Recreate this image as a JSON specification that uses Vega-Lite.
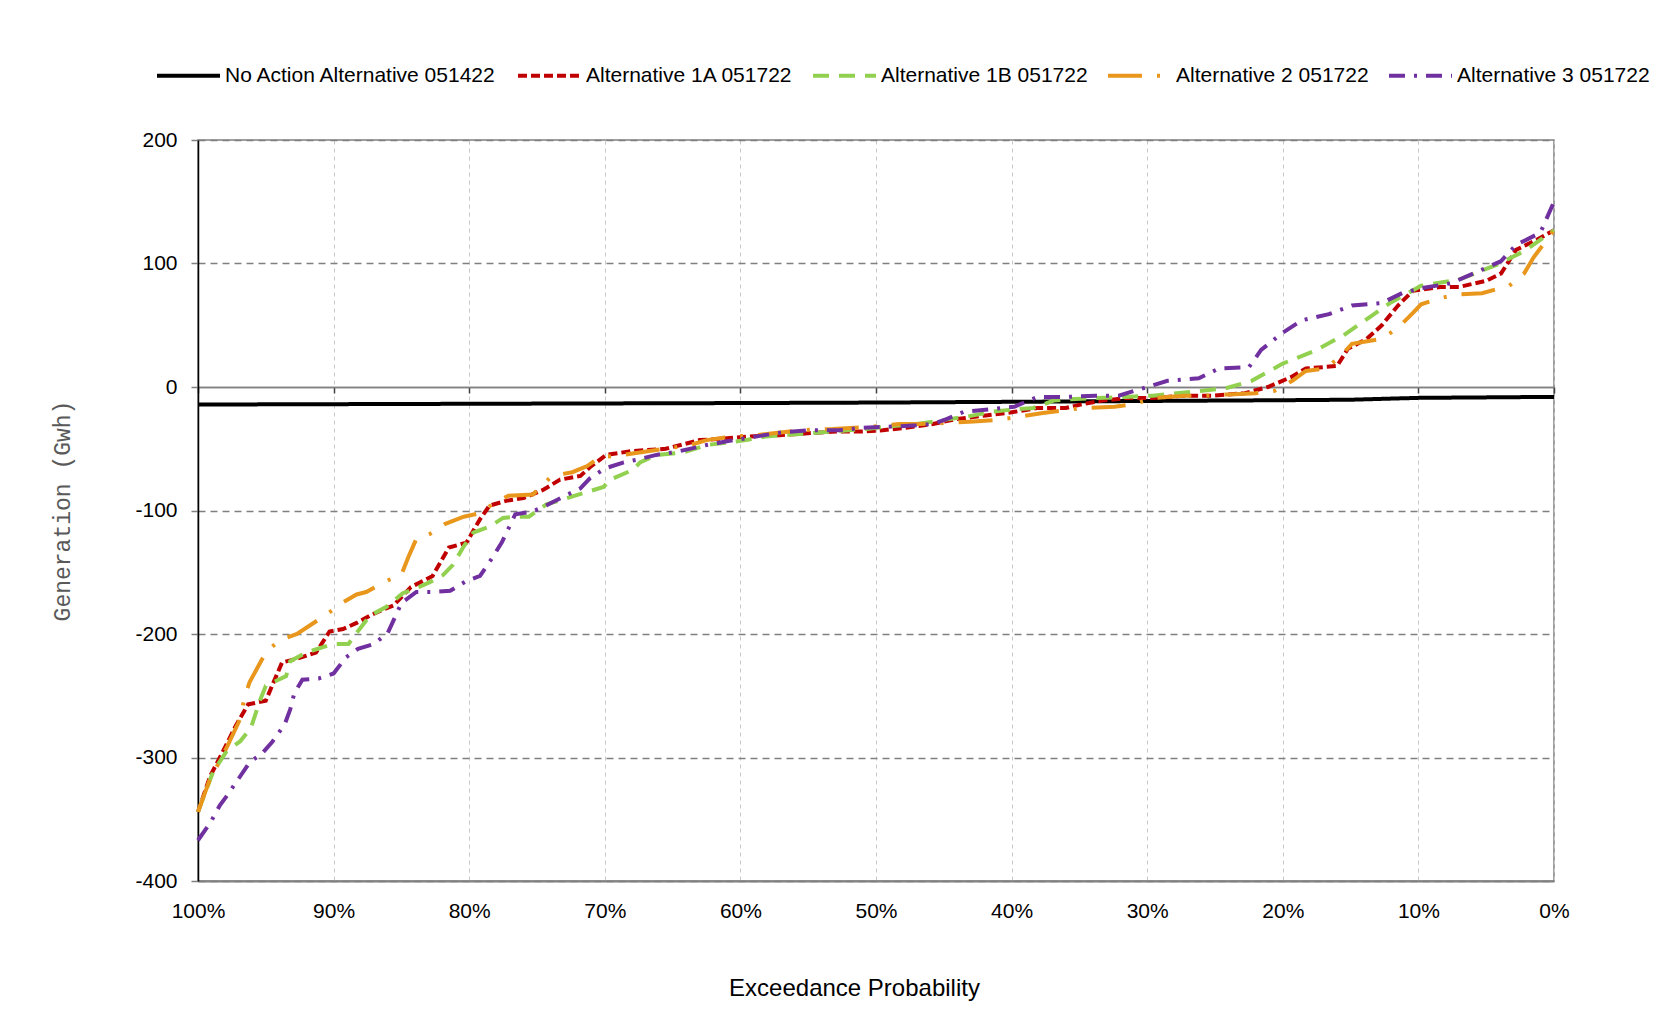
{
  "$schema": "https://vega.github.io/schema/vega-lite/v6.json",
  "width": 1356,
  "height": 741,
  "autosize": {"type": "none"},
  "padding": {"left": 198, "top": 140, "right": 109, "bottom": 151},
  "background": "white",
  "config": {
    "view": {"stroke": "#808080", "strokeWidth": 1.5},
    "font": "Liberation Sans",
    "legend": {
      "orient": "none", "legendX": -43, "legendY": -98, "direction": "horizontal",
      "symbolType": "stroke", "symbolSize": 3969, "symbolStrokeWidth": 4,
      "labelFont": "Liberation Sans", "labelFontSize": 21, "labelColor": "black",
      "labelOffset": 3, "columnPadding": 12, "labelLimit": 400
    }
  },
  "data": {"values": [
    {"s":"No Action Alternative 051422","p":100,"v":-14.2},
    {"s":"No Action Alternative 051422","p":90,"v":-13.9},
    {"s":"No Action Alternative 051422","p":80,"v":-13.6},
    {"s":"No Action Alternative 051422","p":70,"v":-13.3},
    {"s":"No Action Alternative 051422","p":60,"v":-13},
    {"s":"No Action Alternative 051422","p":50,"v":-12.6},
    {"s":"No Action Alternative 051422","p":40,"v":-12},
    {"s":"No Action Alternative 051422","p":30,"v":-11.3},
    {"s":"No Action Alternative 051422","p":20,"v":-10.7},
    {"s":"No Action Alternative 051422","p":15,"v":-10.3},
    {"s":"No Action Alternative 051422","p":10,"v":-8.8},
    {"s":"No Action Alternative 051422","p":0,"v":-8},

    {"s":"Alternative 1A 051722","p":100,"v":-344},
    {"s":"Alternative 1A 051722","p":99.1,"v":-315},
    {"s":"Alternative 1A 051722","p":98.2,"v":-296},
    {"s":"Alternative 1A 051722","p":97.2,"v":-274},
    {"s":"Alternative 1A 051722","p":96.3,"v":-257},
    {"s":"Alternative 1A 051722","p":95,"v":-254},
    {"s":"Alternative 1A 051722","p":94.5,"v":-241},
    {"s":"Alternative 1A 051722","p":93.8,"v":-223},
    {"s":"Alternative 1A 051722","p":92.7,"v":-220},
    {"s":"Alternative 1A 051722","p":91.3,"v":-215},
    {"s":"Alternative 1A 051722","p":90.3,"v":-198},
    {"s":"Alternative 1A 051722","p":89.3,"v":-196},
    {"s":"Alternative 1A 051722","p":88.3,"v":-191},
    {"s":"Alternative 1A 051722","p":87.3,"v":-185},
    {"s":"Alternative 1A 051722","p":86.3,"v":-180},
    {"s":"Alternative 1A 051722","p":85.6,"v":-177},
    {"s":"Alternative 1A 051722","p":84.3,"v":-162},
    {"s":"Alternative 1A 051722","p":83.4,"v":-157},
    {"s":"Alternative 1A 051722","p":82.7,"v":-153},
    {"s":"Alternative 1A 051722","p":81.5,"v":-130},
    {"s":"Alternative 1A 051722","p":80.2,"v":-126},
    {"s":"Alternative 1A 051722","p":79.2,"v":-107},
    {"s":"Alternative 1A 051722","p":78.5,"v":-96},
    {"s":"Alternative 1A 051722","p":77.2,"v":-92},
    {"s":"Alternative 1A 051722","p":76,"v":-90},
    {"s":"Alternative 1A 051722","p":74.5,"v":-83},
    {"s":"Alternative 1A 051722","p":73.3,"v":-75},
    {"s":"Alternative 1A 051722","p":71.8,"v":-72},
    {"s":"Alternative 1A 051722","p":71.1,"v":-65},
    {"s":"Alternative 1A 051722","p":69.9,"v":-55},
    {"s":"Alternative 1A 051722","p":68.1,"v":-52},
    {"s":"Alternative 1A 051722","p":65.5,"v":-50},
    {"s":"Alternative 1A 051722","p":63,"v":-43},
    {"s":"Alternative 1A 051722","p":61.5,"v":-42},
    {"s":"Alternative 1A 051722","p":59.3,"v":-40},
    {"s":"Alternative 1A 051722","p":57.1,"v":-39},
    {"s":"Alternative 1A 051722","p":54.4,"v":-37},
    {"s":"Alternative 1A 051722","p":52.7,"v":-36},
    {"s":"Alternative 1A 051722","p":51,"v":-36},
    {"s":"Alternative 1A 051722","p":49.5,"v":-35},
    {"s":"Alternative 1A 051722","p":47.8,"v":-33},
    {"s":"Alternative 1A 051722","p":45.8,"v":-30},
    {"s":"Alternative 1A 051722","p":44.1,"v":-26},
    {"s":"Alternative 1A 051722","p":41.9,"v":-23},
    {"s":"Alternative 1A 051722","p":40,"v":-20.5},
    {"s":"Alternative 1A 051722","p":38.1,"v":-17},
    {"s":"Alternative 1A 051722","p":36,"v":-17},
    {"s":"Alternative 1A 051722","p":34.8,"v":-14},
    {"s":"Alternative 1A 051722","p":33.3,"v":-11},
    {"s":"Alternative 1A 051722","p":31.6,"v":-9},
    {"s":"Alternative 1A 051722","p":29.6,"v":-9},
    {"s":"Alternative 1A 051722","p":27.3,"v":-7},
    {"s":"Alternative 1A 051722","p":25.1,"v":-7},
    {"s":"Alternative 1A 051722","p":22.8,"v":-5},
    {"s":"Alternative 1A 051722","p":21.1,"v":0},
    {"s":"Alternative 1A 051722","p":19.4,"v":8},
    {"s":"Alternative 1A 051722","p":18.3,"v":15},
    {"s":"Alternative 1A 051722","p":16,"v":17},
    {"s":"Alternative 1A 051722","p":15.2,"v":31},
    {"s":"Alternative 1A 051722","p":13.8,"v":39},
    {"s":"Alternative 1A 051722","p":12.7,"v":50},
    {"s":"Alternative 1A 051722","p":11.5,"v":66},
    {"s":"Alternative 1A 051722","p":10.4,"v":78},
    {"s":"Alternative 1A 051722","p":8.4,"v":81},
    {"s":"Alternative 1A 051722","p":7,"v":81},
    {"s":"Alternative 1A 051722","p":5,"v":86},
    {"s":"Alternative 1A 051722","p":3.9,"v":92},
    {"s":"Alternative 1A 051722","p":2.8,"v":111},
    {"s":"Alternative 1A 051722","p":1.3,"v":119},
    {"s":"Alternative 1A 051722","p":0,"v":127},

    {"s":"Alternative 1B 051722","p":100,"v":-344},
    {"s":"Alternative 1B 051722","p":98.9,"v":-312},
    {"s":"Alternative 1B 051722","p":97.9,"v":-295},
    {"s":"Alternative 1B 051722","p":96.9,"v":-287},
    {"s":"Alternative 1B 051722","p":96.1,"v":-276},
    {"s":"Alternative 1B 051722","p":95.4,"v":-253},
    {"s":"Alternative 1B 051722","p":95,"v":-242},
    {"s":"Alternative 1B 051722","p":93.5,"v":-234},
    {"s":"Alternative 1B 051722","p":93.2,"v":-222},
    {"s":"Alternative 1B 051722","p":92,"v":-215},
    {"s":"Alternative 1B 051722","p":90.9,"v":-211},
    {"s":"Alternative 1B 051722","p":90,"v":-208},
    {"s":"Alternative 1B 051722","p":88.9,"v":-208},
    {"s":"Alternative 1B 051722","p":88.3,"v":-199},
    {"s":"Alternative 1B 051722","p":87.3,"v":-185},
    {"s":"Alternative 1B 051722","p":86.1,"v":-178},
    {"s":"Alternative 1B 051722","p":84.9,"v":-167},
    {"s":"Alternative 1B 051722","p":83.9,"v":-163},
    {"s":"Alternative 1B 051722","p":82.9,"v":-158},
    {"s":"Alternative 1B 051722","p":81.9,"v":-152},
    {"s":"Alternative 1B 051722","p":81.2,"v":-144},
    {"s":"Alternative 1B 051722","p":80.4,"v":-129},
    {"s":"Alternative 1B 051722","p":79.7,"v":-118},
    {"s":"Alternative 1B 051722","p":78.5,"v":-113},
    {"s":"Alternative 1B 051722","p":77.5,"v":-106},
    {"s":"Alternative 1B 051722","p":76.6,"v":-105},
    {"s":"Alternative 1B 051722","p":75.6,"v":-105},
    {"s":"Alternative 1B 051722","p":74.3,"v":-95},
    {"s":"Alternative 1B 051722","p":72.8,"v":-90},
    {"s":"Alternative 1B 051722","p":71.3,"v":-85},
    {"s":"Alternative 1B 051722","p":70.1,"v":-81},
    {"s":"Alternative 1B 051722","p":69.6,"v":-75},
    {"s":"Alternative 1B 051722","p":67.9,"v":-67},
    {"s":"Alternative 1B 051722","p":67.4,"v":-61},
    {"s":"Alternative 1B 051722","p":66.2,"v":-55},
    {"s":"Alternative 1B 051722","p":64.2,"v":-53},
    {"s":"Alternative 1B 051722","p":62.5,"v":-47},
    {"s":"Alternative 1B 051722","p":61,"v":-45},
    {"s":"Alternative 1B 051722","p":59.6,"v":-43},
    {"s":"Alternative 1B 051722","p":58.1,"v":-40},
    {"s":"Alternative 1B 051722","p":55.6,"v":-38},
    {"s":"Alternative 1B 051722","p":53.2,"v":-36},
    {"s":"Alternative 1B 051722","p":50.7,"v":-34},
    {"s":"Alternative 1B 051722","p":49.2,"v":-32},
    {"s":"Alternative 1B 051722","p":47,"v":-30},
    {"s":"Alternative 1B 051722","p":45.8,"v":-28},
    {"s":"Alternative 1B 051722","p":44.6,"v":-26},
    {"s":"Alternative 1B 051722","p":43.3,"v":-24},
    {"s":"Alternative 1B 051722","p":41.4,"v":-20},
    {"s":"Alternative 1B 051722","p":39.7,"v":-18},
    {"s":"Alternative 1B 051722","p":38.4,"v":-17},
    {"s":"Alternative 1B 051722","p":36.9,"v":-11},
    {"s":"Alternative 1B 051722","p":35.9,"v":-10},
    {"s":"Alternative 1B 051722","p":33.8,"v":-9},
    {"s":"Alternative 1B 051722","p":31.6,"v":-8},
    {"s":"Alternative 1B 051722","p":29.6,"v":-7},
    {"s":"Alternative 1B 051722","p":26.8,"v":-4},
    {"s":"Alternative 1B 051722","p":24.2,"v":-1},
    {"s":"Alternative 1B 051722","p":22.3,"v":5},
    {"s":"Alternative 1B 051722","p":20,"v":19},
    {"s":"Alternative 1B 051722","p":17.7,"v":29},
    {"s":"Alternative 1B 051722","p":15.5,"v":42},
    {"s":"Alternative 1B 051722","p":13.8,"v":55},
    {"s":"Alternative 1B 051722","p":12.1,"v":68},
    {"s":"Alternative 1B 051722","p":9.8,"v":82},
    {"s":"Alternative 1B 051722","p":7,"v":87},
    {"s":"Alternative 1B 051722","p":4.2,"v":99},
    {"s":"Alternative 1B 051722","p":2.2,"v":110},
    {"s":"Alternative 1B 051722","p":0,"v":127},

    {"s":"Alternative 2 051722","p":100,"v":-344},
    {"s":"Alternative 2 051722","p":99.1,"v":-317},
    {"s":"Alternative 2 051722","p":98.5,"v":-305},
    {"s":"Alternative 2 051722","p":97.8,"v":-290},
    {"s":"Alternative 2 051722","p":96.9,"v":-269},
    {"s":"Alternative 2 051722","p":96.6,"v":-253},
    {"s":"Alternative 2 051722","p":96.2,"v":-239},
    {"s":"Alternative 2 051722","p":95,"v":-215},
    {"s":"Alternative 2 051722","p":94,"v":-205},
    {"s":"Alternative 2 051722","p":92.7,"v":-200},
    {"s":"Alternative 2 051722","p":90.5,"v":-184},
    {"s":"Alternative 2 051722","p":89.4,"v":-175},
    {"s":"Alternative 2 051722","p":88.3,"v":-168},
    {"s":"Alternative 2 051722","p":87.6,"v":-166},
    {"s":"Alternative 2 051722","p":86.1,"v":-157},
    {"s":"Alternative 2 051722","p":85,"v":-152},
    {"s":"Alternative 2 051722","p":84.5,"v":-138},
    {"s":"Alternative 2 051722","p":83.9,"v":-123},
    {"s":"Alternative 2 051722","p":82.9,"v":-119},
    {"s":"Alternative 2 051722","p":81.8,"v":-111},
    {"s":"Alternative 2 051722","p":80.4,"v":-105},
    {"s":"Alternative 2 051722","p":79.1,"v":-102},
    {"s":"Alternative 2 051722","p":78.2,"v":-94},
    {"s":"Alternative 2 051722","p":77.1,"v":-88},
    {"s":"Alternative 2 051722","p":75.3,"v":-87},
    {"s":"Alternative 2 051722","p":73.9,"v":-72},
    {"s":"Alternative 2 051722","p":72.4,"v":-69},
    {"s":"Alternative 2 051722","p":71.3,"v":-64},
    {"s":"Alternative 2 051722","p":70.4,"v":-57},
    {"s":"Alternative 2 051722","p":69,"v":-55.5},
    {"s":"Alternative 2 051722","p":66.2,"v":-51},
    {"s":"Alternative 2 051722","p":63.7,"v":-47},
    {"s":"Alternative 2 051722","p":62.5,"v":-43},
    {"s":"Alternative 2 051722","p":60.5,"v":-40},
    {"s":"Alternative 2 051722","p":58.8,"v":-39},
    {"s":"Alternative 2 051722","p":55.6,"v":-35},
    {"s":"Alternative 2 051722","p":53.2,"v":-34},
    {"s":"Alternative 2 051722","p":50.2,"v":-32},
    {"s":"Alternative 2 051722","p":48.3,"v":-30},
    {"s":"Alternative 2 051722","p":46.8,"v":-30},
    {"s":"Alternative 2 051722","p":44.6,"v":-29},
    {"s":"Alternative 2 051722","p":42.8,"v":-28},
    {"s":"Alternative 2 051722","p":41.4,"v":-27},
    {"s":"Alternative 2 051722","p":40,"v":-25},
    {"s":"Alternative 2 051722","p":37.7,"v":-21},
    {"s":"Alternative 2 051722","p":36.2,"v":-19},
    {"s":"Alternative 2 051722","p":34.8,"v":-17},
    {"s":"Alternative 2 051722","p":32.4,"v":-16},
    {"s":"Alternative 2 051722","p":31,"v":-14},
    {"s":"Alternative 2 051722","p":29.6,"v":-9},
    {"s":"Alternative 2 051722","p":27.3,"v":-7},
    {"s":"Alternative 2 051722","p":25.8,"v":-7},
    {"s":"Alternative 2 051722","p":24,"v":-6},
    {"s":"Alternative 2 051722","p":22,"v":-5},
    {"s":"Alternative 2 051722","p":20.6,"v":-3},
    {"s":"Alternative 2 051722","p":19.3,"v":5},
    {"s":"Alternative 2 051722","p":18.3,"v":13},
    {"s":"Alternative 2 051722","p":16.9,"v":15},
    {"s":"Alternative 2 051722","p":15.9,"v":23},
    {"s":"Alternative 2 051722","p":14.9,"v":35},
    {"s":"Alternative 2 051722","p":12.7,"v":39},
    {"s":"Alternative 2 051722","p":11.5,"v":48},
    {"s":"Alternative 2 051722","p":10.4,"v":60},
    {"s":"Alternative 2 051722","p":9.8,"v":67},
    {"s":"Alternative 2 051722","p":8.4,"v":72},
    {"s":"Alternative 2 051722","p":7,"v":75},
    {"s":"Alternative 2 051722","p":5.3,"v":76},
    {"s":"Alternative 2 051722","p":3.3,"v":82},
    {"s":"Alternative 2 051722","p":2.2,"v":92},
    {"s":"Alternative 2 051722","p":1.5,"v":105},
    {"s":"Alternative 2 051722","p":0,"v":127},

    {"s":"Alternative 3 051722","p":100,"v":-367},
    {"s":"Alternative 3 051722","p":99.1,"v":-353},
    {"s":"Alternative 3 051722","p":98.4,"v":-339},
    {"s":"Alternative 3 051722","p":97.8,"v":-330},
    {"s":"Alternative 3 051722","p":97,"v":-317},
    {"s":"Alternative 3 051722","p":96.2,"v":-304},
    {"s":"Alternative 3 051722","p":95.3,"v":-297},
    {"s":"Alternative 3 051722","p":94.5,"v":-287},
    {"s":"Alternative 3 051722","p":93.6,"v":-273},
    {"s":"Alternative 3 051722","p":93.2,"v":-261},
    {"s":"Alternative 3 051722","p":92.9,"v":-248},
    {"s":"Alternative 3 051722","p":92.3,"v":-237},
    {"s":"Alternative 3 051722","p":91.1,"v":-236},
    {"s":"Alternative 3 051722","p":90,"v":-232},
    {"s":"Alternative 3 051722","p":89.1,"v":-219},
    {"s":"Alternative 3 051722","p":88.2,"v":-212},
    {"s":"Alternative 3 051722","p":87,"v":-208},
    {"s":"Alternative 3 051722","p":86,"v":-199},
    {"s":"Alternative 3 051722","p":85,"v":-175},
    {"s":"Alternative 3 051722","p":83.9,"v":-166},
    {"s":"Alternative 3 051722","p":82.8,"v":-166},
    {"s":"Alternative 3 051722","p":81.4,"v":-165},
    {"s":"Alternative 3 051722","p":80.2,"v":-157},
    {"s":"Alternative 3 051722","p":79.2,"v":-153},
    {"s":"Alternative 3 051722","p":78.4,"v":-140},
    {"s":"Alternative 3 051722","p":77.6,"v":-126},
    {"s":"Alternative 3 051722","p":76.6,"v":-103},
    {"s":"Alternative 3 051722","p":75.4,"v":-101},
    {"s":"Alternative 3 051722","p":74.5,"v":-97},
    {"s":"Alternative 3 051722","p":73.1,"v":-89},
    {"s":"Alternative 3 051722","p":71.8,"v":-82},
    {"s":"Alternative 3 051722","p":71.1,"v":-74},
    {"s":"Alternative 3 051722","p":70,"v":-66},
    {"s":"Alternative 3 051722","p":68.6,"v":-61},
    {"s":"Alternative 3 051722","p":67.7,"v":-59},
    {"s":"Alternative 3 051722","p":66.2,"v":-55},
    {"s":"Alternative 3 051722","p":64.5,"v":-52},
    {"s":"Alternative 3 051722","p":62.5,"v":-47},
    {"s":"Alternative 3 051722","p":61,"v":-44},
    {"s":"Alternative 3 051722","p":58.8,"v":-40},
    {"s":"Alternative 3 051722","p":57.1,"v":-37},
    {"s":"Alternative 3 051722","p":54.9,"v":-35},
    {"s":"Alternative 3 051722","p":52.7,"v":-35},
    {"s":"Alternative 3 051722","p":51,"v":-33},
    {"s":"Alternative 3 051722","p":48.7,"v":-32},
    {"s":"Alternative 3 051722","p":47,"v":-31},
    {"s":"Alternative 3 051722","p":45.8,"v":-30},
    {"s":"Alternative 3 051722","p":44.8,"v":-26},
    {"s":"Alternative 3 051722","p":43.5,"v":-20},
    {"s":"Alternative 3 051722","p":41.6,"v":-18},
    {"s":"Alternative 3 051722","p":39.8,"v":-16},
    {"s":"Alternative 3 051722","p":38.1,"v":-8},
    {"s":"Alternative 3 051722","p":35.8,"v":-8},
    {"s":"Alternative 3 051722","p":33.8,"v":-7},
    {"s":"Alternative 3 051722","p":32.1,"v":-7},
    {"s":"Alternative 3 051722","p":30,"v":0},
    {"s":"Alternative 3 051722","p":28.5,"v":5},
    {"s":"Alternative 3 051722","p":26.2,"v":7},
    {"s":"Alternative 3 051722","p":24.7,"v":15},
    {"s":"Alternative 3 051722","p":22.5,"v":16},
    {"s":"Alternative 3 051722","p":21.6,"v":30},
    {"s":"Alternative 3 051722","p":20,"v":44},
    {"s":"Alternative 3 051722","p":18.6,"v":54},
    {"s":"Alternative 3 051722","p":16.6,"v":59},
    {"s":"Alternative 3 051722","p":14.9,"v":66},
    {"s":"Alternative 3 051722","p":12.7,"v":68},
    {"s":"Alternative 3 051722","p":11.2,"v":76},
    {"s":"Alternative 3 051722","p":9.8,"v":80},
    {"s":"Alternative 3 051722","p":7.6,"v":84},
    {"s":"Alternative 3 051722","p":5.3,"v":95},
    {"s":"Alternative 3 051722","p":3.9,"v":102},
    {"s":"Alternative 3 051722","p":2.8,"v":115},
    {"s":"Alternative 3 051722","p":1,"v":125},
    {"s":"Alternative 3 051722","p":0,"v":150}
  ]},
  "encoding": {
    "y": {
      "field": "v", "type": "quantitative",
      "scale": {"domain": [-400, 200], "nice": false, "zero": false},
      "axis": {
        "values": [-400, -300, -200, -100, 0, 100, 200],
        "labelExpr": "'' + datum.value",
        "labelFont": "Liberation Sans", "labelFontSize": 21, "labelColor": "black",
        "labelPadding": 14, "tickSize": 7, "tickColor": "#808080", "tickWidth": 1.5,
        "domainColor": "#000000", "domainWidth": 1.5,
        "grid": true, "gridColor": "#808080", "gridWidth": 1.5,
        "gridDash": {"condition": {"test": "datum.value === 0", "value": []}, "value": [7, 5]},
        "title": "Generation (Gwh)", "titleFont": "Liberation Mono", "titleFontSize": 23,
        "titleFontWeight": "normal", "titleColor": "#595959", "titlePadding": 60
      }
    },
    "color": {
      "field": "s", "type": "nominal",
      "scale": {
        "domain": ["No Action Alternative 051422", "Alternative 1A 051722", "Alternative 1B 051722", "Alternative 2 051722", "Alternative 3 051722"],
        "range": ["#000000", "#C00000", "#92D050", "#E8971C", "#7030A0"]
      },
      "legend": {"title": null}
    },
    "strokeDash": {
      "field": "s", "type": "nominal",
      "scale": {
        "domain": ["No Action Alternative 051422", "Alternative 1A 051722", "Alternative 1B 051722", "Alternative 2 051722", "Alternative 3 051722"],
        "range": [[1, 0], [9, 4], [16, 10], [34, 15, 3, 15], [16, 9, 3, 9]]
      },
      "legend": {"title": null}
    }
  },
  "layer": [
    {
      "transform": [{"filter": "datum.s === 'No Action Alternative 051422'"}],
      "mark": {"type": "line", "strokeWidth": 4, "strokeCap": "butt"},
      "encoding": {
        "x": {
          "field": "p", "type": "quantitative",
          "scale": {"domain": [100, 0], "nice": false, "zero": false},
          "axis": {
            "orient": "bottom", "offset": -494,
            "values": [0, 10, 20, 30, 40, 50, 60, 70, 80, 90, 100],
            "labels": false, "grid": false, "title": null,
            "ticks": true, "tickSize": 6, "tickColor": "#404040", "tickWidth": 1.5,
            "domain": true, "domainColor": "#808080", "domainWidth": 1.5
          }
        }
      }
    },
    {
      "transform": [{"filter": "datum.s !== 'No Action Alternative 051422'"}],
      "mark": {"type": "line", "strokeWidth": 4, "strokeCap": "butt"},
      "encoding": {
        "x": {
          "field": "p", "type": "quantitative",
          "scale": {"domain": [100, 0], "nice": false, "zero": false},
          "axis": {
            "orient": "bottom",
            "values": [0, 10, 20, 30, 40, 50, 60, 70, 80, 90, 100],
            "labelExpr": "datum.value + '%'",
            "labelFont": "Liberation Sans", "labelFontSize": 21, "labelColor": "black",
            "labelPadding": 19, "labelFlush": false, "labelOverlap": false,
            "ticks": false, "domainColor": "#808080", "domainWidth": 2,
            "grid": true, "gridColor": "#c8c8c8", "gridDash": [4, 4], "gridWidth": 1,
            "title": "Exceedance Probability", "titleFont": "Liberation Sans", "titleFontSize": 24,
            "titleFontWeight": "normal", "titleColor": "black", "titlePadding": 55, "titleX": 656
          }
        }
      }
    }
  ],
  "resolve": {"axis": {"x": "independent"}}
}
